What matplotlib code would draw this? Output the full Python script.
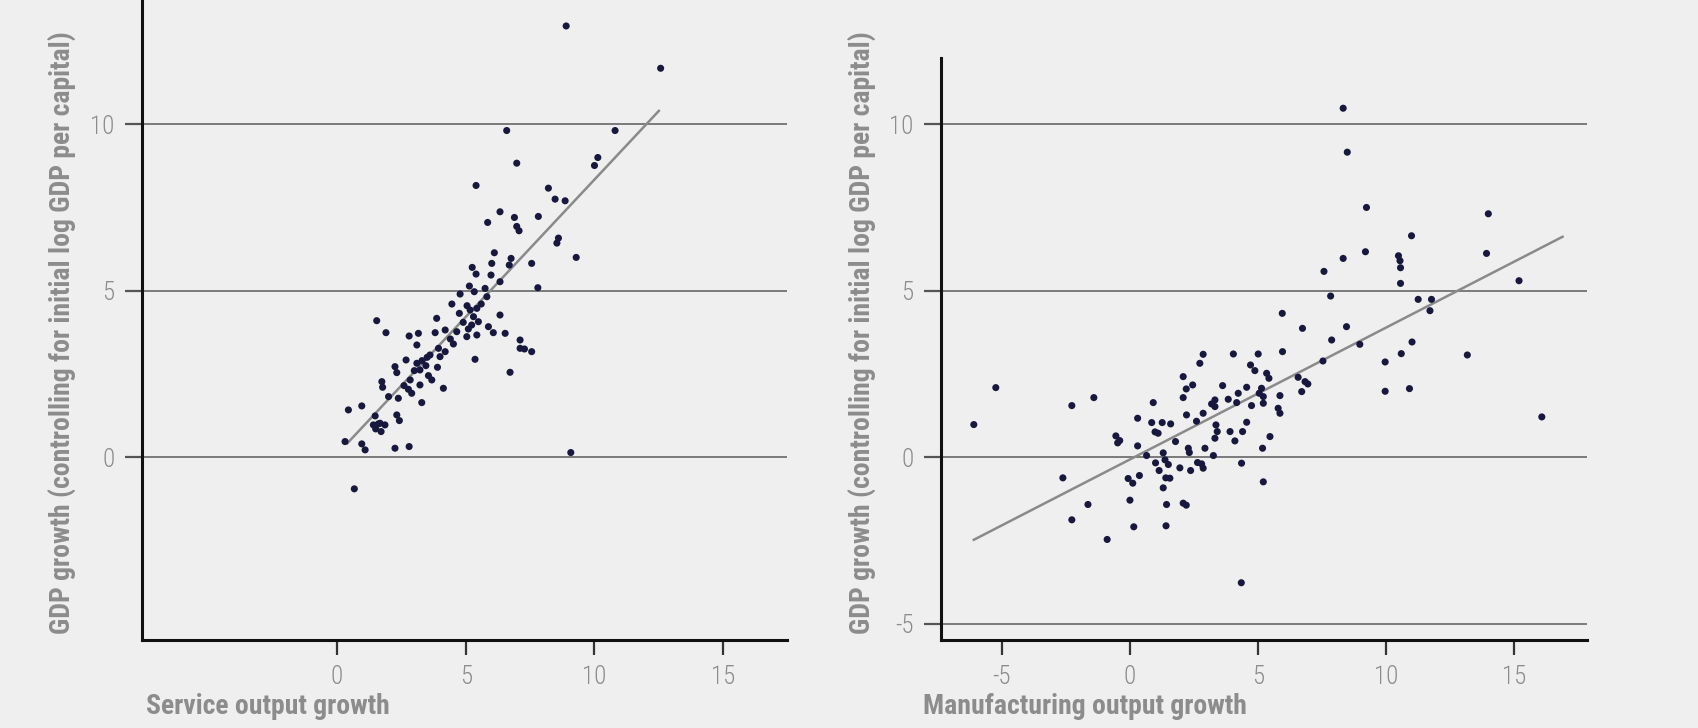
import matplotlib
matplotlib.use("Agg")
import matplotlib.pyplot as plt


# left panel: service output growth vs GDP growth
service_x = [8.9, 12.57, 6.59, 10.8, 6.98, 10.13, 10.0, 5.4, 8.21, 8.47, 8.86, 6.33, 5.85, 6.89,
             6.98, 7.07, 7.82, 8.6, 8.54, 6.11, 6.76, 9.29,
             6.69, 6.01, 7.56, 5.25, 5.4, 5.98, 6.33, 7.8, 5.14, 5.33, 5.75, 5.82, 4.78, 4.46,
             4.75, 5.17, 5.43, 5.3, 5.49, 5.23, 6.33, 6.53, 6.07, 5.88, 3.87, 4.2, 1.54, 1.9,
             2.8, 3.16, 3.81, 4.65, 5.04, 5.43, 7.11, 7.28, 7.56, 5.05, 5.6, 5.1, 4.9,
             3.1, 2.68, 2.25, 2.32, 3.1, 3.61, 3.94, 4.2, 4.52, 4.0, 3.3, 3.5, 3.22, 3.0, 2.84,
             3.22, 3.68, 4.13, 1.74, 1.77, 2.77, 2.9, 2.0, 2.38, 3.29, 0.44, 0.96, 1.48, 1.41,
             1.67, 1.86, 1.71, 2.32, 2.42, 0.31, 0.96, 1.09, 2.25, 2.8, 9.08, 0.67, 5.36, 6.72,
             7.11, 4.4, 3.45, 3.9, 3.55, 2.6, 1.6, 1.5]
service_y = [12.95, 11.68, 9.81, 9.81, 8.83, 9.0, 8.76, 8.16, 8.08, 7.75, 7.7, 7.37, 7.05, 7.2,
             6.93, 6.8, 7.23, 6.58, 6.43, 6.14, 5.97, 6.0,
             5.77, 5.82, 5.82, 5.7, 5.5, 5.47, 5.27, 5.09, 5.14, 4.97, 5.07, 4.82, 4.9, 4.6,
             4.32, 4.42, 4.47, 4.22, 4.07, 3.97, 4.27, 3.72, 3.74, 3.92, 4.17, 3.82, 4.1, 3.74,
             3.64, 3.72, 3.74, 3.77, 3.62, 3.67, 3.52, 3.25, 3.17, 4.55, 4.6, 3.85, 4.05,
             3.37, 2.92, 2.72, 2.54, 2.82, 3.07, 3.27, 3.17, 3.4, 3.02, 2.9, 3.0, 2.62, 2.6, 2.32,
             2.17, 2.32, 2.07, 2.27, 2.1, 2.04, 1.92, 1.82, 1.77, 1.64, 1.42, 1.54, 1.24, 0.97,
             1.02, 0.97, 0.77, 1.27, 1.1, 0.47, 0.4, 0.22, 0.27, 0.32, 0.14, -0.95, 2.94, 2.55,
             3.27, 3.55, 2.75, 2.7, 2.45, 2.15, 1.0, 0.85]
service_fit_x = [0.4, 12.5]
service_fit_y = [0.42, 10.4]

# right panel: manufacturing output growth vs GDP growth
manuf_x = [8.33, 8.49, 9.24, 14.0, 11.0, 9.2, 8.33, 13.93, 10.49, 10.55, 10.57, 7.58, 10.57,
           15.2, 7.84, 11.26, 11.78, 11.72, 5.95, 6.74, 8.46, 7.88, 11.02, 8.98, 13.18, 10.6,
           9.97, 9.97, 10.92, 16.09, 7.54,
           -6.1, -5.24, -2.27, -1.41, -2.62, -2.27, -1.64, -0.89, 0.0, 0.15, 1.41, 4.35, 5.21,
           -0.55, -0.4, -0.48, 0.3, 0.91, 0.3, 0.65, 0.85, 1.26, 1.59, 0.98, 1.1, 2.08, 2.2,
           2.45, 2.08, 2.21, 2.6, 1.78, 2.28, 2.32, 1.3, 1.37, 1.5, 1.0, 1.14, 1.95, 2.37,
           2.64, 2.8, 2.86, -0.07, 0.11, 0.37, 1.4, 1.56, 1.3, 1.43, 2.08, 2.2, 4.36,
           2.86, 2.73, 4.04, 5.01, 5.96, 4.71, 4.88, 5.34, 5.43, 6.57, 6.84, 6.95, 6.71, 3.62,
           4.56, 4.23, 5.14, 5.05, 5.21, 5.86, 5.79, 5.86, 3.84, 3.32, 3.19, 3.32, 4.17, 4.75,
           5.21, 2.86, 3.36, 3.41, 3.32, 3.91, 4.4, 4.56, 4.1, 5.47, 5.18, 2.93, 3.26]
manuf_y = [10.48, 9.16, 7.5, 7.31, 6.65, 6.17, 5.97, 6.12, 6.05, 5.9, 5.69, 5.58, 5.22,
           5.3, 4.84, 4.74, 4.74, 4.4, 4.32, 3.87, 3.92, 3.52, 3.46, 3.39, 3.07, 3.11,
           2.86, 1.98, 2.06, 1.21, 2.89,
           0.98, 2.09, 1.55, 1.79, -0.62, -1.88, -1.42, -2.47, -1.29, -2.09, -2.06, -3.77, -0.74,
           0.64, 0.5, 0.43, 1.17, 1.64, 0.34, 0.05, 1.04, 1.04, 1.0, 0.76, 0.72, 2.42, 2.05,
           2.17, 1.79, 1.27, 1.08, 0.47, 0.27, 0.14, 0.13, -0.08, -0.22, -0.17, -0.4, -0.32, -0.4,
           -0.16, -0.2, -0.33, -0.64, -0.78, -0.55, -0.62, -0.63, -0.92, -1.42, -1.38, -1.44, -0.18,
           3.09, 2.82, 3.1, 3.1, 3.17, 2.77, 2.6, 2.52, 2.37, 2.4, 2.27, 2.2, 1.97, 2.15,
           2.1, 1.92, 2.07, 1.92, 1.82, 1.85, 1.47, 1.32, 1.74, 1.72, 1.6, 1.52, 1.64, 1.55,
           1.62, 1.32, 0.97, 0.77, 0.57, 0.77, 0.77, 1.05, 0.49, 0.62, 0.27, 0.27, 0.05]
manuf_fit_x = [-6.1, 16.9]
manuf_fit_y = [-2.48, 6.62]

service_xticks = [0, 5, 10, 15]
service_yticks = [0, 5, 10]
manuf_xticks = [-5, 0, 5, 10, 15]
manuf_yticks = [-5, 0, 5, 10]

y_label = "GDP growth (controlling for initial log GDP per capital)"
service_label = "Service output growth"
manuf_label = "Manufacturing output growth"

bg = "#efefef"
dot_color = "#18183f"
text_grey = "#8c8c8c"

plt.rcParams["font.family"] = ["Roboto Condensed", "DejaVu Sans"]
plt.rcParams["axes.unicode_minus"] = False


def panel(ax, xs, ys, fit_x, fit_y, xticks, yticks, xlim, spine_top):
    ax.set_facecolor(bg)
    for t in yticks:
        ax.axhline(t, color="#7a7a7a", lw=1.4, zorder=1)
    ax.plot(fit_x, fit_y, color="#8a8a8a", lw=1.8, zorder=2)
    ax.scatter(xs, ys, s=26, color=dot_color, edgecolors="none", zorder=3)

    ax.set_xlim(xlim)
    ax.set_ylim(-5.48, 13.73)
    ax.set_xticks(xticks)
    ax.set_yticks(yticks)

    for side in ["top", "right"]:
        ax.spines[side].set_visible(False)
    for side in ["left", "bottom"]:
        ax.spines[side].set_linewidth(2.2)
        ax.spines[side].set_color("#111111")
    ax.spines["left"].set_bounds(-5.48, spine_top)

    ax.tick_params(axis="x", length=11, width=1.6, color="#333333",
                   labelcolor=text_grey, labelsize=18, pad=7)
    ax.tick_params(axis="y", length=12, width=1.6, color="#555555",
                   labelcolor=text_grey, labelsize=18, pad=8)
    for lab in ax.get_xticklabels() + ax.get_yticklabels():
        lab.set_fontweight("light")


fig = plt.figure(figsize=(16.98, 7.28), dpi=100, facecolor=bg)

ax1 = fig.add_axes([0.0839, 0.1213, 0.3796, 0.8787])
panel(ax1, service_x, service_y, service_fit_x, service_fit_y,
      service_xticks, service_yticks, (-7.56, 17.48), 13.73)

ax2 = fig.add_axes([0.5542, 0.1213, 0.3802, 0.8787])
panel(ax2, manuf_x, manuf_y, manuf_fit_x, manuf_fit_y,
      manuf_xticks, manuf_yticks, (-7.38, 17.84), 12.0)

# axis titles sit at the start of each axis, in bold grey
fig.text(146 / 1698, 1 - 706 / 728, service_label, color=text_grey, fontsize=20,
         fontweight="bold", ha="left", va="center")
fig.text(923 / 1698, 1 - 706 / 728, manuf_label, color=text_grey, fontsize=20,
         fontweight="bold", ha="left", va="center")
fig.text(62 / 1698, 1 - 634 / 728, y_label, color=text_grey, fontsize=20,
         fontweight="bold", rotation=90, ha="center", va="bottom")
fig.text(862 / 1698, 1 - 634 / 728, y_label, color=text_grey, fontsize=20,
         fontweight="bold", rotation=90, ha="center", va="bottom")

fig.savefig("out.png", dpi=100, facecolor=bg)
